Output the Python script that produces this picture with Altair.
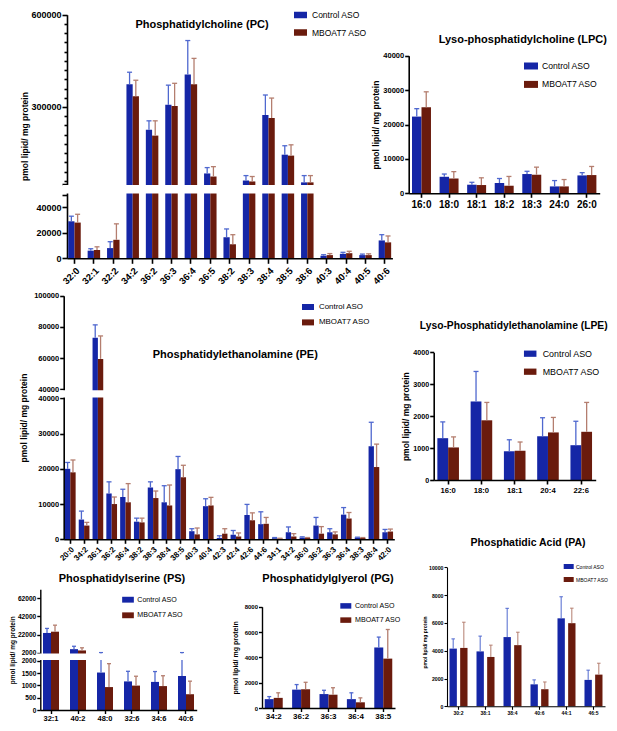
import json
import altair as alt
import pandas as pd

FONT = "Liberation Sans"
GROUPS = ["Control ASO", "MBOAT7 ASO"]
BAR_COLORS = ["#1526a6", "#6a1b0d"]
ERR_COLORS = ["#4f68cf", "#b47e6f"]
Y_TITLE = "pmol lipid/ mg protein"
SYMBOL = "M-1,-0.5H1V0.5H-1Z"
TOTAL_W, TOTAL_H = 601, 715

# ---------------- data ----------------
PC_TITLE = "Phosphatidylcholine (PC)"
PC_CATS = ["32:0", "32:1", "32:2", "34:2", "36:2", "36:3", "36:4", "36:5", "38:2",
           "38:3", "38:4", "38:5", "38:6", "40:3", "40:4", "40:5", "40:6"]
PC_CTRL = [29000, 6000, 8000, 374000, 226000, 307000, 406000, 84000, 16500,
           61000, 274000, 145000, 55000, 2000, 3500, 2500, 14000]
PC_MBO = [28000, 6500, 14500, 335000, 207000, 303000, 374000, 74000, 11000,
          58000, 264000, 142000, 55000, 2500, 4000, 2500, 12500]
PC_CTRL_ERR = [4000, 1500, 5000, 39000, 29000, 64000, 110000, 19000, 6500,
               16000, 65000, 29000, 22000, 800, 1200, 800, 4500]
PC_MBO_ERR = [6500, 2500, 12500, 52000, 48000, 74000, 84000, 32000, 7500,
              16000, 65000, 35000, 22000, 1200, 1500, 1000, 5000]

LPC_TITLE = "Lyso-phosphatidylcholine (LPC)"
LPC_CATS = ["16:0", "18:0", "18:1", "18:2", "18:3", "24:0", "26:0"]
LPC_CTRL = [22300, 4800, 2500, 3000, 5600, 2000, 5200]
LPC_MBO = [25000, 4300, 2400, 2200, 5400, 2000, 5300]
LPC_CTRL_ERR = [2300, 800, 700, 1300, 800, 1700, 800]
LPC_MBO_ERR = [4500, 2000, 2100, 2700, 2200, 2000, 2500]

PE_TITLE = "Phosphatidylethanolamine (PE)"
PE_CATS = ["20:0", "34:2", "36:1", "36:2", "36:4", "38:2", "38:3", "38:4", "38:5",
           "40:3", "40:4", "42:3", "42:4", "42:6", "44:6", "34:1", "34:2", "36:0",
           "36:2", "36:3", "36:4", "38:3", "38:4", "42:0"]
PE_CTRL = [20000, 5600, 73000, 13000, 12000, 5000, 14700, 10500, 19900,
           2300, 9400, 400, 1300, 6900, 4300, 300, 2000, 500,
           3900, 2000, 7000, 500, 26400, 2000]
PE_MBO = [19000, 3900, 59500, 10000, 10500, 4800, 11700, 9600, 17600,
          1400, 9600, 1600, 800, 5400, 4400, 200, 800, 400,
          1600, 1400, 5900, 400, 20500, 2200]
PE_CTRL_ERR = [1800, 2400, 8300, 3300, 2200, 1000, 1600, 4700, 3600,
               700, 2100, 600, 1200, 3000, 3500, 200, 1500, 200,
               2300, 1000, 2000, 100, 6800, 800]
PE_MBO_ERR = [3500, 900, 14700, 2000, 5300, 1200, 2000, 5800, 3400,
              1800, 2300, 1400, 1000, 2100, 1800, 100, 800, 100,
              2000, 700, 1700, 100, 6500, 700]

LPE_TITLE = "Lyso-Phosphatidylethanolamine (LPE)"
LPE_CATS = ["16:0", "18:0", "18:1", "20:4", "22:6"]
LPE_CTRL = [1310, 2460, 900, 1370, 1090]
LPE_MBO = [1020, 1870, 920, 1490, 1510]
LPE_CTRL_ERR = [510, 940, 360, 580, 750]
LPE_MBO_ERR = [330, 560, 270, 470, 920]

PS_TITLE = "Phosphatidylserine (PS)"
PS_CATS = ["32:1", "40:2", "48:0", "32:6", "34:6", "40:6"]
PS_CTRL = [23800, 5900, 1520, 1160, 1140, 1380]
PS_MBO = [25200, 4500, 930, 990, 970, 640]
PS_CTRL_ERR = [5000, 3200, 600, 410, 420, 720]
PS_MBO_ERR = [7200, 2900, 950, 380, 420, 530]

PG_TITLE = "Phosphatidylglyerol (PG)"
PG_CATS = ["34:2", "36:2", "36:3", "36:4", "38:5"]
PG_CTRL = [700, 1450, 1100, 700, 4780]
PG_MBO = [800, 1480, 1050, 450, 3900]
PG_CTRL_ERR = [200, 400, 300, 500, 820]
PG_MBO_ERR = [400, 550, 550, 350, 2300]

PA_TITLE = "Phosphatidic Acid (PA)"
PA_CATS = ["30:2", "38:1", "38:4", "40:6", "44:1", "46:5"]
PA_CTRL = [4150, 3950, 4980, 1580, 6330, 1900]
PA_MBO = [4200, 3550, 4400, 1230, 5980, 2280]
PA_CTRL_ERR = [700, 1100, 2070, 320, 1550, 700]
PA_MBO_ERR = [1850, 850, 930, 520, 1080, 820]


def make_df(cats, ctrl, mbo, cerr, merr):
    keys = [f"{i:02d} {c}" for i, c in enumerate(cats)]
    rows = []
    for k, a, b, ea, eb in zip(keys, ctrl, mbo, cerr, merr):
        rows.append({"cat": k, "group": GROUPS[0], "value": a, "upper": a + ea})
        rows.append({"cat": k, "group": GROUPS[1], "value": b, "upper": b + eb})
    return pd.DataFrame(rows), keys


def panel(title, series, x0, W, ydom, yrange, yticks, ylab=None, gap=None,
          pi=0.3, po=0.1, opad=0.0, xangle=0, xfs=8, yfs=7, ytfs=8.5,
          ytx=-30, yty=100, legx=0, legy=0, legfs=8, symw=12, rowpad=5,
          laboff=4, tx=0, ty=0, tfs=11, cap=5, ticklen=4, axw=1.6, ew=1.3,
          xlabpad=2, minor_test=None):
    df, keys = make_df(*series)
    xaxis = alt.Axis(title=None, orient="bottom", offset=-(TOTAL_H - yrange[0]),
                     labelExpr="slice(datum.label, 3)", labelAngle=xangle,
                     labelFont=FONT, labelFontWeight="bold", labelFontSize=xfs,
                     labelColor="black", tickColor="black", tickWidth=axw,
                     tickSize=ticklen, domainColor="black", domainWidth=axw,
                     labelPadding=xlabpad, labelOverlap=False, grid=False, zindex=1)
    xenc = alt.X("cat:N", sort=keys,
                 scale=alt.Scale(range=[x0, x0 + W], paddingInner=pi, paddingOuter=po),
                 axis=xaxis)
    xoff = alt.XOffset("group:N", sort=GROUPS,
                       scale=alt.Scale(domain=GROUPS, paddingInner=opad, paddingOuter=0))
    if ylab is None:
        expr = "format(floor(datum.value), 'd')"
    else:
        expr = "indexof(%s, datum.value) >= 0 ? format(floor(datum.value), 'd') : ''" % json.dumps(ylab)
    if minor_test:
        ts = {"condition": {"test": minor_test, "value": 3}, "value": ticklen}
    else:
        ts = ticklen
    yaxis = alt.Axis(values=yticks, labelExpr=expr, orient="left", offset=-x0,
                     title=Y_TITLE, titleX=ytx, titleY=yty,
                     titleAlign="center", titleBaseline="middle", titleFont=FONT,
                     titleFontSize=ytfs, titleFontWeight="bold", titleColor="black",
                     labelFont=FONT, labelFontSize=yfs, labelFontWeight="bold",
                     labelColor="black", labelPadding=1, labelOverlap=False,
                     tickColor="black", tickWidth=axw, tickSize=ts,
                     domainColor="black", domainWidth=axw, grid=False, zindex=0)
    yscale = alt.Scale(domain=ydom, range=yrange, nice=False, zero=False)
    color = alt.Color("group:N", sort=GROUPS,
                      scale=alt.Scale(domain=GROUPS, range=BAR_COLORS),
                      legend=alt.Legend(title=None, orient="none", legendX=legx, legendY=legy,
                                        symbolType=SYMBOL, symbolSize=symw * symw,
                                        symbolStrokeWidth=0, labelFont=FONT,
                                        labelFontSize=legfs, labelColor="black",
                                        rowPadding=rowpad, labelOffset=laboff, padding=0))
    errscale = alt.Scale(domain=GROUPS, range=ERR_COLORS)
    base = alt.Chart(df)
    bars = base.mark_bar().encode(
        x=xenc, xOffset=xoff, y=alt.Y("value:Q", scale=yscale, axis=yaxis), color=color)
    rules = base.mark_rule(strokeWidth=ew).encode(
        x=xenc, xOffset=xoff, y=alt.Y("value:Q", scale=yscale, axis=yaxis),
        y2="upper:Q", stroke=alt.Stroke("group:N", scale=errscale, legend=None))
    caps = base.mark_tick(size=cap, thickness=ew, orient="horizontal", opacity=1).encode(
        x=xenc, xOffset=xoff, y=alt.Y("upper:Q", scale=yscale, axis=yaxis),
        fill=alt.Fill("group:N", scale=errscale, legend=None))
    layers = [bars, rules, caps]
    if gap is not None:
        layers.append(
            alt.Chart(alt.Data(values=[{"g": 1}])).mark_rect(color="white").encode(
                x=alt.value(x0 - 4), x2=alt.value(x0 + W + 3),
                y=alt.YDatum(gap[0], type="quantitative", scale=yscale, axis=yaxis),
                y2=alt.Y2Datum(gap[1])))
    layers.append(
        alt.Chart(alt.Data(values=[{"t": title}])).mark_text(
            font=FONT, fontSize=tfs, fontWeight="bold", align="center",
            baseline="alphabetic", color="black").encode(
            text="t:N", x=alt.value(tx), y=alt.value(ty)))
    return alt.layer(*layers)


pc = panel(PC_TITLE, (PC_CATS, PC_CTRL, PC_MBO, PC_CTRL_ERR, PC_MBO_ERR),
           x0=59, W=325.4, ydom=[0, 50000, 50000.5, 600000],
           yrange=[250.3, 186.5, 175.9, 6.7],
           yticks=[0, 20000, 40000, 50000, 50000.5] + list(range(60000, 600001, 30000)),
           ylab=[0, 20000, 40000, 300000, 600000], gap=[50000.05, 50000.45],
           pi=0.356, po=0.064, xangle=-45, xfs=9.5, yfs=9, ytfs=8.5, ytx=-42.3, yty=128,
           legx=286, legy=0.5, legfs=8.5, symw=13, rowpad=6.5, laboff=5, tx=194, ty=20.3,
           ticklen=5, minor_test="datum.value > 55000 && datum.value != 300000 && datum.value != 600000")

lpc = panel(LPC_TITLE, (LPC_CATS, LPC_CTRL, LPC_MBO, LPC_CTRL_ERR, LPC_MBO_ERR),
            x0=400.7, W=191, ydom=[0, 40000], yrange=[185.3, 47.7],
            yticks=[0, 10000, 20000, 30000, 40000],
            pi=0.312, po=0.12, xfs=10, yfs=7.5, ytfs=8.5, ytx=-33.4, yty=116.5,
            legx=516, legy=51, legfs=8.6, symw=14, rowpad=6.4, laboff=4,
            tx=514.8, ty=35.3)

pe = panel(PE_TITLE, (PE_CATS, PE_CTRL, PE_MBO, PE_CTRL_ERR, PE_MBO_ERR),
           x0=55.7, W=330.6, ydom=[0, 40000, 40000.5, 100000],
           yrange=[531.3, 390.3, 381.3, 287.7],
           yticks=[0, 10000, 20000, 30000, 40000, 40000.5, 60000, 80000, 100000],
           gap=[40000.05, 40000.45], pi=0.225, po=0.09, xangle=-45, xfs=8, yfs=7.5,
           ytfs=8.5, ytx=-40, yty=409.5, legx=294, legy=293, legfs=7.9, symw=12,
           rowpad=5.4, laboff=5, tx=227.3, ty=349.7)

lpe = panel(LPE_TITLE, (LPE_CATS, LPE_CTRL, LPE_MBO, LPE_CTRL_ERR, LPE_MBO_ERR),
            x0=425.7, W=162, ydom=[0, 4000], yrange=[472, 344.3],
            yticks=[0, 1000, 2000, 3000, 4000],
            pi=0.351, po=0.11, xfs=7.7, yfs=7.2, ytfs=8.5, ytx=-28.4, yty=408.2,
            legx=515.7, legy=339.2, legfs=8.9, symw=12.5, rowpad=6, laboff=6,
            tx=505.7, ty=321.3, tfs=10.3)

ps = panel(PS_TITLE, (PS_CATS, PS_CTRL, PS_MBO, PS_CTRL_ERR, PS_MBO_ERR),
           x0=32.3, W=156.4, ydom=[0, 2000, 2000.5, 72000],
           yrange=[702, 652.7, 644.7, 581.3],
           yticks=[0, 500, 1000, 1500, 2000, 2000.5, 22000, 42000, 62000],
           gap=[2000.05, 2000.45], pi=0.407, po=0.1, xfs=7.5, yfs=6.6, ytfs=6.5,
           ytx=-28.3, yty=641.7, legx=114, legy=585.7, legfs=7.1, symw=11.7, rowpad=5.6,
           laboff=3.3, tx=114, ty=574.3, cap=4, ticklen=3.5, axw=1.4, xlabpad=1)

pg = panel(PG_TITLE, (PG_CATS, PG_CTRL, PG_MBO, PG_CTRL_ERR, PG_MBO_ERR),
           x0=254, W=133, ydom=[0, 8000], yrange=[700, 598.7],
           yticks=[0, 2000, 4000, 6000, 8000],
           pi=0.343, po=0.1, xfs=8, yfs=6, ytfs=7, ytx=-26.7, yty=649.4,
           legx=332.3, legy=592.4, legfs=7.1, symw=11, rowpad=5.2, laboff=3.7,
           tx=320, ty=574.3, cap=4, ticklen=3.5, axw=1.4, xlabpad=1)

pa = panel(PA_TITLE, (PA_CATS, PA_CTRL, PA_MBO, PA_CTRL_ERR, PA_MBO_ERR),
           x0=439, W=158, ydom=[0, 10000], yrange=[698.3, 559.3],
           yticks=[0, 2000, 4000, 6000, 8000, 10000],
           pi=0.333, po=0.093, opad=0.31, xfs=5, yfs=5.2, ytfs=5, ytx=-22.3, yty=634,
           legx=555.7, legy=553.5, legfs=5, symw=10, rowpad=5, laboff=2.3,
           tx=520, ty=538, tfs=10.5, cap=3.5, ticklen=3, axw=1.1, ew=1.0, xlabpad=1)

chart = alt.layer(pc, lpc, pe, lpe, ps, pg, pa).resolve_scale(
    x="independent", y="independent", xOffset="independent",
    color="independent", stroke="independent", fill="independent"
).resolve_axis(x="independent", y="independent").resolve_legend(
    color="independent"
).properties(
    width=TOTAL_W, height=TOTAL_H,
    autosize=alt.AutoSizeParams(type="none"),
    padding={"left": 0, "top": 0, "right": 0, "bottom": 0}, background="white"
).configure_view(stroke=None)

chart.save("out.html", embed_options={"renderer": "svg", "actions": False})
